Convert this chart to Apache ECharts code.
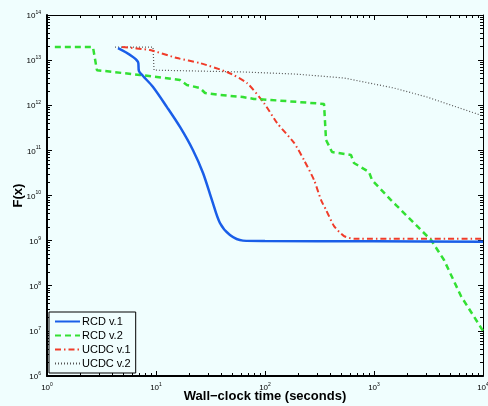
<!DOCTYPE html>
<html lang="en">
<head>
  <meta charset="UTF-8">
  <title>F(x) vs wall-clock time</title>
  <script src="https://cdn.jsdelivr.net/npm/echarts@6/dist/echarts.min.js"></script>
  <style>
    *{margin:0;padding:0;}
    body{background:#f0fefe;}
    .container{width:488px;height:406px;}
  </style>
</head>
<body>
  <div class="container"></div>
  <script type="text/javascript">
    // series names
    var names = ['RCD v.1', 'RCD v.2', 'UCDC v.1', 'UCDC v.2']

    // RCD v.1 (blue solid)
    var rcd1T = [4.48, 6.84, 6.98, 7.6, 9.39, 12.6, 16.6, 21.8, 27.0, 32.6, 38.6, 47.7, 62.8, 100, 1000, 10000]
    var rcd1F = [1.85e13, 9.1e12, 5.7e12, 4.45e12, 2.54e12, 9.1e11, 3.3e11, 1.02e11, 3.15e10, 7.9e9, 2.46e9, 1.33e9, 1.0e9, 9.8e8, 9.7e8, 9.5e8]

    // RCD v.2 (green dashed)
    var rcd2T = [1.18, 2.64, 2.87, 2.94, 7.13, 10.2, 16.6, 19.2, 25.3, 28.2, 38.6, 62.8, 79.2, 113, 348, 363, 412, 615, 655, 899, 959, 1432, 1592, 3336, 4390, 6280, 10000]
    var rcd2F = [1.95e13, 1.95e13, 6.0e12, 5.6e12, 4.68e12, 4.24e12, 3.63e12, 2.81e12, 2.41e12, 1.87e12, 1.69e12, 1.52e12, 1.38e12, 1.31e12, 1.07e12, 1.7e11, 9.2e10, 7.9e10, 5.25e10, 3.32e10, 2.2e10, 7.9e9, 6.15e9, 1.03e9, 3.72e8, 5.9e7, 1.0e7]

    // UCDC v.1 (red dash-dot)
    var ucdc1T = [4.88, 8.81, 15.6, 25.3, 44.8, 68.4, 97.9, 129, 185, 228, 282, 327, 363, 430, 531, 656, 10000]
    var ucdc1F = [1.95e13, 1.67e13, 1.11e13, 8.6e12, 5.46e12, 3.11e12, 1.12e12, 4.05e11, 1.46e11, 6.1e10, 2.2e10, 7.9e9, 4.8e9, 2.1e9, 1.26e9, 1.1e9, 1.1e9]

    // UCDC v.2 (black dotted)
    var ucdc2T = [4.21, 9.39, 9.59, 62.8, 185, 531, 1525, 3063, 10000]
    var ucdc2F = [1.95e13, 1.95e13, 6.0e12, 5.46e12, 4.93e12, 4.02e12, 2.41e12, 1.52e12, 5.8e11]

    function zip(t, f) {
      return t.map(function (v, i) { return [v, f[i]] })
    }

    function powLabel(v) {
      var e = Math.round(Math.log10(v))
      return '{b|10}{s|' + e + '}'
    }
    var richLbl = {
      b: {fontSize: 8, fontFamily: 'Liberation Sans', color: '#000', verticalAlign: 'bottom'},
      s: {fontSize: 5, fontFamily: 'Liberation Sans', color: '#000', verticalAlign: 'top', padding: [0, 0, 5, 0]}
    }

    function axisBase(extra) {
      var a = {
        type: 'log',
        logBase: 10,
        axisLine: {show: true, onZero: false, lineStyle: {color: '#000', width: 1}},
        axisTick: {show: true, inside: true, length: 5, lineStyle: {color: '#000'}},
        minorTick: {show: true, splitNumber: 9, length: 3, lineStyle: {color: '#000'}},
        splitLine: {show: false},
        minorSplitLine: {show: false}
      }
      for (var k in extra) a[k] = extra[k]
      return a
    }

    const mCharts = echarts.init(document.querySelector('.container'))
    var option = {
      backgroundColor: '#f0fefe',
      animation: false,
      grid: {left: 47, right: 5, top: 15, bottom: 30, show: false, containLabel: false, outerBoundsMode: 'none'},
      xAxis: [
        axisBase({
          min: 1, max: 10000, interval: 1,
          position: 'bottom',
          axisLine: {show: true, onZero: false, lineStyle: {color: '#000', width: 2}},
          axisLabel: {formatter: powLabel, rich: richLbl, margin: 6},
          name: 'Wall\u2212clock time (seconds)',
          nameLocation: 'middle',
          nameMoveOverlap: false,
          nameGap: 14,
          nameTextStyle: {fontSize: 13, fontWeight: 'bold', fontFamily: 'Liberation Sans', color: '#000'}
        }),
        axisBase({
          min: 1, max: 10000, interval: 1,
          position: 'top',
          axisLabel: {show: false}
        })
      ],
      yAxis: [
        axisBase({
          min: 1e6, max: 1e14, interval: 1,
          position: 'left',
          axisLine: {show: true, onZero: false, lineStyle: {color: '#000', width: 2}},
          axisLabel: {formatter: powLabel, rich: richLbl, margin: 6},
          name: 'F(x)',
          nameLocation: 'middle',
          nameMoveOverlap: false,
          nameGap: 22,
          nameRotate: 90,
          nameTextStyle: {fontSize: 13, fontWeight: 'bold', fontFamily: 'Liberation Sans', color: '#000'}
        }),
        axisBase({
          min: 1e6, max: 1e14, interval: 1,
          position: 'right',
          axisLabel: {show: false}
        })
      ],
      legend: {
        orient: 'vertical',
        left: 49,
        top: 312,
        data: names,
        backgroundColor: '#f0fefe',
        borderColor: '#000',
        borderWidth: 1,
        borderRadius: 0,
        padding: [4, 5, 4, 5],
        itemGap: 3,
        itemWidth: 25,
        itemHeight: 11,
        itemStyle: {opacity: 0},
        textStyle: {fontSize: 11, fontFamily: 'Liberation Sans', color: '#000', padding: [0, 0, 0, -3]}
      },
      series: [
        {
          name: names[0], type: 'line', data: zip(rcd1T, rcd1F), symbol: 'none', smooth: 0.3,
          lineStyle: {color: '#1a5ee8', width: 2.5, type: 'solid'}, itemStyle: {color: '#1a5ee8'}, z: 4
        },
        {
          name: names[1], type: 'line', data: zip(rcd2T, rcd2F), symbol: 'none',
          lineStyle: {color: '#33e033', width: 2.5, type: [6, 4]}, itemStyle: {color: '#33e033'}, z: 3
        },
        {
          name: names[2], type: 'line', data: zip(ucdc1T, ucdc1F), symbol: 'none', smooth: 0.2,
          lineStyle: {color: '#f03c2a', width: 2, type: [6, 3, 1.5, 3]}, itemStyle: {color: '#f03c2a'}, z: 2
        },
        {
          name: names[3], type: 'line', data: zip(ucdc2T, ucdc2F), symbol: 'none',
          lineStyle: {color: '#555', width: 1.2, type: [1, 2]}, itemStyle: {color: '#555'}, z: 1
        }
      ]
    }
    mCharts.setOption(option)
    window.onresize = mCharts.resize
  </script>
</body>
</html>
